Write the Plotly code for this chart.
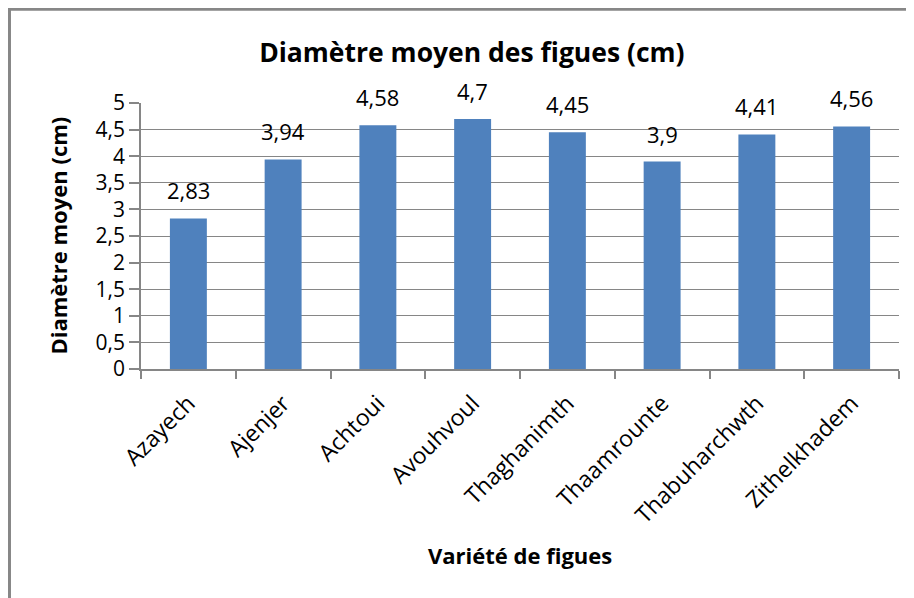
import plotly.graph_objects as go

categories = ["Azayech", "Ajenjer", "Achtoui", "Avouhvoul", "Thaghanimth",
              "Thaamrounte", "Thabuharchwth", "Zithelkhadem"]
diametre = [2.83, 3.94, 4.58, 4.7, 4.45, 3.9, 4.41, 4.56]
labels = ["2,83", "3,94", "4,58", "4,7", "4,45", "3,9", "4,41", "4,56"]
y_ticks = [0, 0.5, 1, 1.5, 2, 2.5, 3, 3.5, 4, 4.5, 5]
y_ticktext = ["0", "0,5", "1", "1,5", "2", "2,5", "3", "3,5", "4", "4,5", "5"]

FONT = "Open Sans"
GRID = "#868686"

fig = go.Figure()
fig.add_trace(go.Bar(x=categories, y=diametre, marker=dict(color="#4F81BD", line=dict(width=0)),
                     width=0.39, hoverinfo="x+y"))

for c, v, t in zip(categories, diametre, labels):
    fig.add_annotation(x=c, y=v, text=t, showarrow=False, yanchor="bottom", yshift=11,
                       font=dict(family=FONT, size=22, color="#000000"))

fig.add_annotation(text="<b>Variété de figues</b>", xref="paper", yref="paper",
                   x=0.5, y=-0.70, xanchor="center", yanchor="middle", showarrow=False,
                   font=dict(family=FONT, size=22, color="#000000"))
fig.add_annotation(text="<b>Diamètre moyen (cm)</b>", xref="paper", yref="paper",
                   x=-0.11, y=0.5, xanchor="center", yanchor="middle", textangle=-90,
                   showarrow=False, font=dict(family=FONT, size=22, color="#000000"))

# chart frame
fig.add_shape(type="rect", xref="paper", yref="paper", x0=-0.1735, x1=1.02,
              y0=-0.9, y1=1.352, line=dict(color="#878787", width=3), layer="above")

fig.update_layout(
    width=906, height=590,
    margin=dict(l=133, r=15, t=95, b=229),
    paper_bgcolor="white", plot_bgcolor="white",
    title=dict(text="<b>Diamètre moyen des figues (cm)</b>", x=0.512, xanchor="center",
               y=0.925, yanchor="middle", font=dict(family=FONT, size=26.5, color="#000000")),
    showlegend=False,
    font=dict(family=FONT, color="#000000"),
    xaxis=dict(type="category", tickangle=-45, tickson="boundaries", ticks="outside",
               ticklen=8, tickcolor=GRID, tickwidth=1.5, showline=True, linecolor=GRID,
               linewidth=1.5, showgrid=False, ticklabelstandoff=10,
               tickfont=dict(family=FONT, size=23, color="#000000")),
    yaxis=dict(range=[0, 5], tickvals=y_ticks, ticktext=y_ticktext, ticks="outside", ticklen=10,
               tickcolor=GRID, tickwidth=1.5, showline=True, linecolor=GRID, linewidth=1.5,
               showgrid=True, gridcolor=GRID, gridwidth=1, zeroline=False,
               tickfont=dict(family=FONT, size=21, color="#000000")),
)

fig.write_html("out.html")
